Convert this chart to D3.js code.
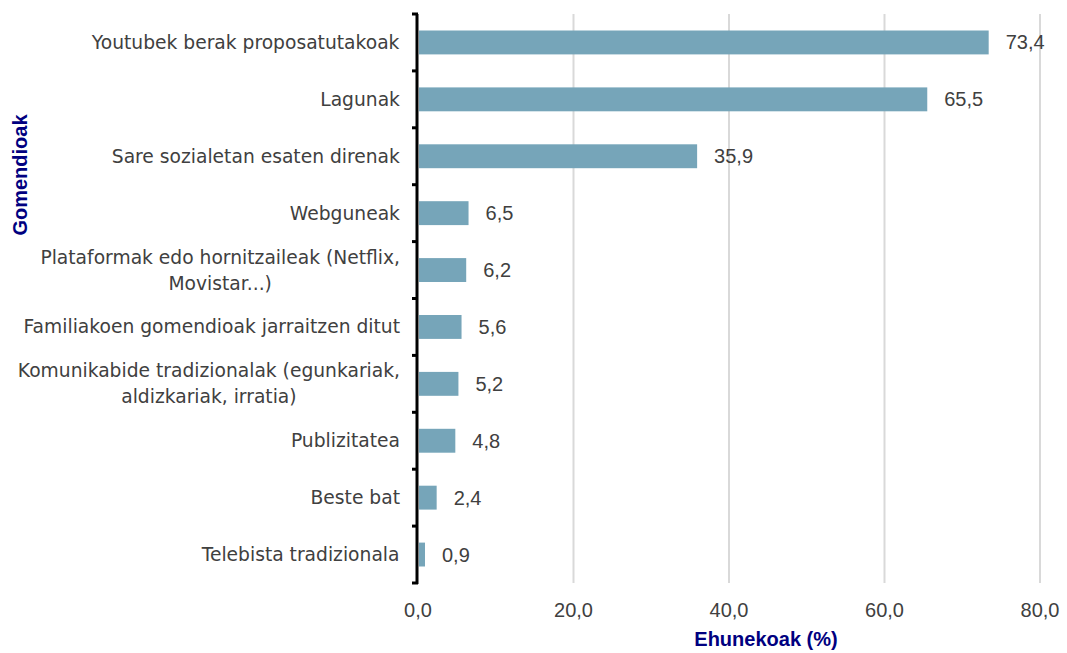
<!DOCTYPE html>
<html><head><meta charset="utf-8">
<script src="https://cdn.jsdelivr.net/npm/d3@7"></script>
<style>body{margin:0;background:#fff}svg{display:block}</style>
</head><body>
<svg id="c" width="1067" height="653"></svg>
<script>
const categories = [
  ["Youtubek berak proposatutakoak"],
  ["Lagunak"],
  ["Sare sozialetan esaten direnak"],
  ["Webguneak"],
  ["Plataformak edo hornitzaileak (Netflix,", "Movistar...)"],
  ["Familiakoen gomendioak jarraitzen ditut"],
  ["Komunikabide tradizionalak (egunkariak,", "aldizkariak, irratia)"],
  ["Publizitatea"],
  ["Beste bat"],
  ["Telebista tradizionala"]
];
const values = [73.4, 65.5, 35.9, 6.5, 6.2, 5.6, 5.2, 4.8, 2.4, 0.9];
const xTicks = [0, 20, 40, 60, 80];
const xTitle = "Ehunekoak (%)";
const yTitle = "Gomendioak";

(function () {
const svg = d3.select("#c");
const pL = 418, pR = 1040, pT = 14, pB = 583;
const fmt = v => d3.format(".1f")(v).replace(".", ",");
const x = d3.scaleLinear().domain([0, 80]).range([pL, pR]);
const idx = d3.range(categories.length);
const y = d3.scaleBand().domain(idx).range([pT, pB]).paddingInner(0.58).paddingOuter(0.29);
const yb = d3.scaleBand().domain(idx).range([pT, pB]);
const sans = "'Liberation Sans', Arial, sans-serif";

// gridlines
svg.append("g").selectAll("line").data(xTicks.filter(t => t > 0)).join("line")
  .attr("x1", d => x(d)).attr("x2", d => x(d)).attr("y1", pT).attr("y2", pB)
  .attr("stroke", "#d9d9d9").attr("stroke-width", 2);

// bars
svg.append("g").selectAll("rect").data(values).join("rect")
  .attr("x", x(0) + 1).attr("y", (d, i) => y(i))
  .attr("width", d => Math.max(0, x(d) - x(0) - 1)).attr("height", y.bandwidth())
  .attr("fill", "#76a5b9");

// value labels
svg.append("g").selectAll("text").data(values).join("text")
  .attr("x", d => x(d) + 17).attr("y", (d, i) => y(i) + y.bandwidth() / 2)
  .attr("dy", "0.35em").attr("font-family", sans)
  .attr("font-size", 20).attr("fill", "#404040").text(d => fmt(d));

// y axis
const yAxisG = svg.append("g");
yAxisG.append("line").attr("x1", pL - 1).attr("x2", pL - 1).attr("y1", pT).attr("y2", pB + 1)
  .attr("stroke", "#000").attr("stroke-width", 3);
const bounds = idx.map(i => yb(i)).concat([pB]);
yAxisG.selectAll("line.t").data(bounds).join("line").attr("class", "t")
  .attr("x1", pL - 6).attr("x2", pL).attr("y1", d => d).attr("y2", d => d)
  .attr("stroke", "#000").attr("stroke-width", 3);

// category labels
const catG = svg.append("g").attr("font-family", "'DejaVu Sans', Verdana, sans-serif")
  .attr("font-size", 18.7).attr("fill", "#404040");
categories.forEach((lines, i) => {
  const cy = yb(i) + yb.bandwidth() / 2;
  const t = catG.append("text").attr("text-anchor", "middle");
  const lh = 26;
  lines.forEach((ln, j) => {
    t.append("tspan").attr("x", 0).attr("y", cy + (j - (lines.length - 1) / 2) * lh).attr("dy", "0.35em").text(ln);
  });
  const w = t.node().getBBox().width;
  t.selectAll("tspan").attr("x", 400 - w / 2);
});

// x tick labels
svg.append("g").selectAll("text").data(xTicks).join("text")
  .attr("x", d => x(d)).attr("y", 610).attr("dy", "0.35em").attr("text-anchor", "middle")
  .attr("font-family", sans).attr("font-size", 20)
  .attr("fill", "#404040").text(d => fmt(d));

// axis titles
svg.append("text").attr("x", 766).attr("y", 639).attr("dy", "0.35em").attr("text-anchor", "middle")
  .attr("font-family", sans).attr("font-size", 20)
  .attr("font-weight", "bold").attr("fill", "#000080").text(xTitle);
svg.append("text").attr("transform", "translate(20,175) rotate(-90)").attr("dy", "0.35em")
  .attr("text-anchor", "middle").attr("font-family", sans)
  .attr("font-size", 20).attr("font-weight", "bold").attr("fill", "#000080").text(yTitle);
})();
</script>
</body></html>
